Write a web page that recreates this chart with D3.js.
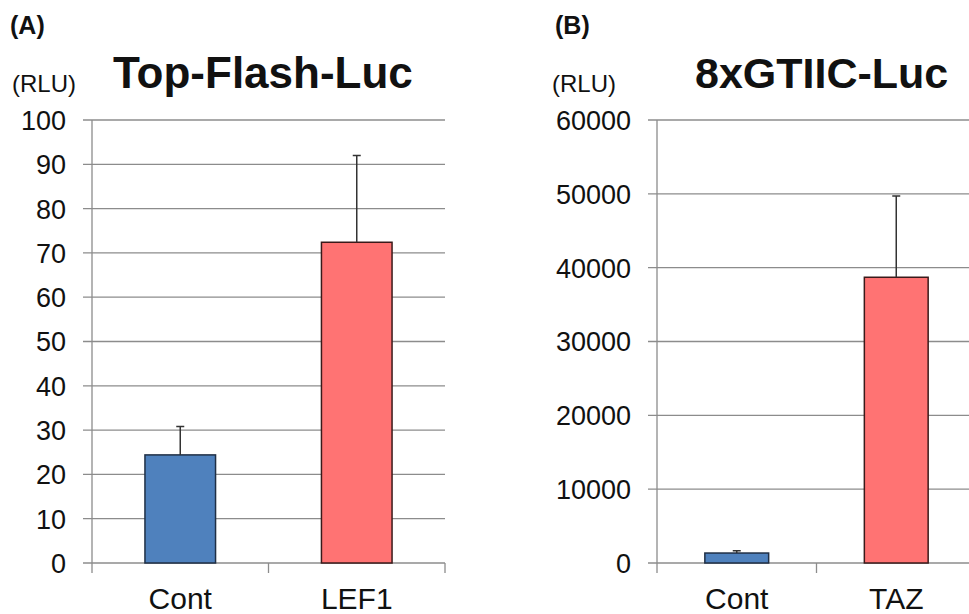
<!DOCTYPE html>
<meta charset="utf-8">
<style>
body { margin: 0; background: #fff; }
text { font-family: "Liberation Sans", Arial, sans-serif; fill: #111; }
.grid line { stroke: #8c8c8c; stroke-width: 1.3; }
.frame { stroke: #8c8c8c; stroke-width: 1.3; }
.err { stroke: #333; stroke-width: 1.5; fill: none; }
</style>
<body>
<script src="https://d3js.org/d3.v7.min.js"></script>
<script>

// panel A: Top-Flash-Luc
var catsA = ["Cont", "LEF1"];
var meanA = [24.4, 72.4];
var errA = [30.8, 92.0];   // top of error bar
var ticksA = [0, 10, 20, 30, 40, 50, 60, 70, 80, 90, 100];

// panel B: 8xGTIIC-Luc
var catsB = ["Cont", "TAZ"];
var meanB = [1350, 38700];
var errB = [1650, 49700];
var ticksB = [0, 10000, 20000, 30000, 40000, 50000, 60000];

var colors = ["#4f81bd", "#ff7373"];
var strokes = ["#1f2f45", "#3a1a1a"];

var svg = d3.select("body").append("svg")
    .attr("width", 969)
    .attr("height", 614);

function panel(o) {
  var g = svg.append("g");

  var x = d3.scaleBand()
      .domain(o.cats)
      .range([o.x0, o.x1])
      .padding(0);

  var y = d3.scaleLinear()
      .domain([0, o.max])
      .range([563, 120]);

  // gridlines (start a little left of the axis, like excel tick marks)
  g.append("g").attr("class", "grid")
    .selectAll("line").data(o.ticks).enter().append("line")
      .attr("x1", o.x0 - 9).attr("x2", o.x1)
      .attr("y1", function(d) { return y(d); })
      .attr("y2", function(d) { return y(d); });

  // y labels
  g.append("g")
      .attr("transform", "translate(" + o.x0 + ",0)")
      .call(d3.axisLeft(y).tickValues(o.ticks).tickSize(0).tickPadding(26).tickFormat(d3.format("d")))
      .call(function(a) { a.select(".domain").remove(); })
      .selectAll("text")
      .style("font-size", "27px")
      .attr("dy", "0.35em");

  // vertical axis line
  g.append("line").attr("class", "frame")
      .attr("x1", o.x0).attr("x2", o.x0)
      .attr("y1", y(o.max)).attr("y2", y(0) + 10);

  // category boundary ticks
  var bounds = o.cats.map(function(c) { return x(c) + x.bandwidth(); });
  g.selectAll(".ctick").data(bounds).enter().append("line")
      .attr("class", "frame")
      .attr("x1", function(d) { return d; }).attr("x2", function(d) { return d; })
      .attr("y1", y(0)).attr("y2", y(0) + 10);

  // x labels
  g.append("g")
      .attr("transform", "translate(0," + y(0) + ")")
      .call(d3.axisBottom(x).tickSize(0).tickPadding(25))
      .call(function(a) { a.select(".domain").remove(); })
      .selectAll("text")
      .style("font-size", "30px");

  var bw = x.bandwidth() * 0.4;

  // bars
  g.selectAll(".bar").data(o.cats).enter().append("rect")
      .attr("x", function(d) { return x(d) + (x.bandwidth() - bw) / 2; })
      .attr("width", bw)
      .attr("y", function(d, i) { return y(o.mean[i]); })
      .attr("height", function(d, i) { return y(0) - y(o.mean[i]); })
      .attr("fill", function(d, i) { return colors[i]; })
      .attr("stroke", function(d, i) { return strokes[i]; })
      .attr("stroke-width", 1.5);

  // error bars (upper only)
  o.cats.forEach(function(c, i) {
    var cx = x(c) + x.bandwidth() / 2;
    g.append("path").attr("class", "err")
      .attr("d", "M" + cx + "," + y(o.mean[i]) + "V" + y(o.err[i]) +
                 "M" + (cx - 4) + "," + y(o.err[i]) + "H" + (cx + 4));
  });

  // titles
  g.append("text").attr("x", o.tagX).attr("y", 34)
      .style("font-size", "25px").style("font-weight", "bold").text(o.tag);
  g.append("text").attr("x", o.rluX).attr("y", 92)
      .style("font-size", "24px").text("(RLU)");
  g.append("text").attr("x", o.titleX).attr("y", 88)
      .style("font-size", o.titleSize + "px").style("font-weight", "bold").text(o.title);
}

panel({cats: catsA, mean: meanA, err: errA, ticks: ticksA, max: 100,
       x0: 92, x1: 445, tag: "(A)", tagX: 10, rluX: 12,
       title: "Top-Flash-Luc", titleX: 113, titleSize: 44});

panel({cats: catsB, mean: meanB, err: errB, ticks: ticksB, max: 60000,
       x0: 657, x1: 976, tag: "(B)", tagX: 555, rluX: 552,
       title: "8xGTIIC-Luc", titleX: 695, titleSize: 43});

</script>
</body>
